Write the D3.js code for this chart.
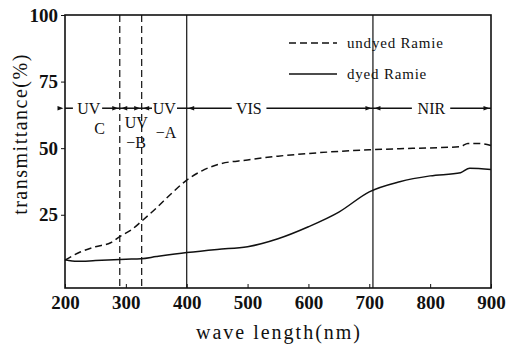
<!DOCTYPE html>
<html>
<head>
<meta charset="utf-8">
<script src="https://cdn.jsdelivr.net/npm/d3@7"></script>
<style>
  body { margin: 0; background: #fff; }
</style>
</head>
<body>
<figure id="chart" style="margin:0"></figure>
<script>
// wavelengths (nm) and transmittance (%)
const undyedX = [200, 225, 250, 275, 290, 310, 325, 350, 375, 400, 425, 450, 500, 550, 600, 650, 700, 750, 800, 850, 862, 880, 900];
const undyedY = [8, 11, 13, 14.5, 16.8, 19.5, 22.4, 27.5, 33, 38, 41.5, 43.8, 45.6, 47, 48, 48.8, 49.4, 49.8, 50.1, 50.6, 51.8, 51.8, 51];
const dyedX = [200, 220, 250, 300, 325, 350, 400, 450, 500, 550, 600, 650, 700, 750, 800, 850, 865, 900];
const dyedY = [8.1, 7.5, 7.8, 8.3, 8.5, 9.3, 10.8, 12, 13, 16, 20.5, 26, 33.6, 37.4, 39.6, 40.8, 42.5, 42];
const xTicks = [200, 300, 400, 500, 600, 700, 800, 900];
const yTicks = [25, 50, 75, 100];
const dashedBounds = [290, 326];
const solidBounds = [400, 706];
const bandLevel = 65;
const legendNames = ["undyed Ramie", "dyed Ramie"];

const width = 507, height = 348;
const mLeft = 65, mRight = 491, mTop = 15, mBottom = 288;
const serif = "'Liberation Serif', 'DejaVu Serif', serif";

const svg = d3.select("figure#chart")
  .append("svg")
  .attr("width", width)
  .attr("height", height);

const x = d3.scaleLinear().domain([200, 900]).range([mLeft, mRight]);
const y = d3.scaleLinear().domain([-2.5, 100]).range([mBottom, mTop]);

// frame
svg.append("rect")
  .attr("x", mLeft).attr("y", mTop)
  .attr("width", mRight - mLeft).attr("height", mBottom - mTop)
  .attr("fill", "none").attr("stroke", "#111").attr("stroke-width", 1.6);

// axes
const xAxis = svg.append("g")
  .attr("transform", "translate(0," + mBottom + ")")
  .call(d3.axisBottom(x).tickValues(xTicks).tickSize(-4).tickPadding(8).tickFormat(d3.format("d")));
xAxis.select(".domain").remove();
xAxis.selectAll("line").attr("stroke", "#111");
xAxis.selectAll("text")
  .style("font-family", serif).style("font-size", "19px").style("font-weight", "bold")
  .attr("fill", "#111");

const yAxis = svg.append("g")
  .attr("transform", "translate(" + mLeft + ",0)")
  .call(d3.axisLeft(y).tickValues(yTicks).tickSize(4).tickPadding(3));
yAxis.select(".domain").remove();
yAxis.selectAll("line").attr("stroke", "#111");
yAxis.selectAll("text")
  .style("font-family", serif).style("font-size", "19px").style("font-weight", "bold")
  .attr("fill", "#111");

// axis titles
svg.append("text")
  .attr("x", 279)
  .attr("y", 339)
  .attr("text-anchor", "middle")
  .style("font-family", serif)
  .style("font-size", "20px")
  .style("letter-spacing", "2px")
  .attr("fill", "#111")
  .text("wave length(nm)");

svg.append("text")
  .attr("transform", "translate(27,134) rotate(-90)")
  .attr("text-anchor", "middle")
  .style("font-family", serif)
  .style("font-size", "20px")
  .style("letter-spacing", "1.5px")
  .attr("fill", "#111")
  .text("transmittance(%)");

// region boundaries
svg.selectAll(".dashB")
  .data(dashedBounds)
  .enter()
  .append("line")
  .attr("x1", d => x(d)).attr("x2", d => x(d))
  .attr("y1", mTop).attr("y2", mBottom)
  .attr("stroke", "#111").attr("stroke-width", 1.2)
  .attr("stroke-dasharray", "7,4");

svg.selectAll(".solidB")
  .data(solidBounds)
  .enter()
  .append("line")
  .attr("x1", d => x(d)).attr("x2", d => x(d))
  .attr("y1", mTop).attr("y2", mBottom)
  .attr("stroke", "#111").attr("stroke-width", 1.2);

// band arrow line
const by = y(bandLevel);
const bandSegs = [
  [200, 213], [261, 290], [290, 326], [326, 343], [384, 400], [400, 474], [531, 706], [706, 770], [833, 900]
];
svg.selectAll(".band")
  .data(bandSegs)
  .enter()
  .append("line")
  .attr("x1", d => x(d[0])).attr("x2", d => x(d[1]))
  .attr("y1", by).attr("y2", by)
  .attr("stroke", "#111").attr("stroke-width", 1.5);

const arrowMarks = [[200, 1], [290, 1], [290, -1], [326, 1], [326, -1], [400, -1], [706, 1], [706, -1], [900, 1]];
svg.selectAll(".arrow")
  .data(arrowMarks)
  .enter()
  .append("path")
  .attr("d", d => {
    const px = x(d[0]) - d[1] * 1.5;
    return "M" + px + "," + by + "l" + (-d[1] * 6) + ",-2.2l0,4.4z";
  })
  .attr("fill", "#111");

const bandLabels = [
  { t: "UV", v: 239, dy: 0 }, { t: "C", v: 257, dy: 20 },
  { t: "UV", v: 317, dy: 14 }, { t: "\u2212B", v: 317, dy: 34 },
  { t: "UV", v: 363, dy: 0 }, { t: "\u2212A", v: 366, dy: 24 },
  { t: "VIS", v: 502, dy: 0 }, { t: "NIR", v: 802, dy: 0 }
];
svg.selectAll(".bandLabel")
  .data(bandLabels)
  .enter()
  .append("text")
  .attr("x", d => x(d.v))
  .attr("y", d => by + d.dy + 6)
  .attr("text-anchor", "middle")
  .style("font-family", serif)
  .style("font-size", "16px")
  .attr("fill", "#111")
  .text(d => d.t);

// curves
const line = d3.line().curve(d3.curveMonotoneX);
svg.append("path")
  .attr("d", line(undyedX.map((v, i) => [x(v), y(undyedY[i])])))
  .attr("fill", "none").attr("stroke", "#111").attr("stroke-width", 1.5)
  .attr("stroke-dasharray", "7,4");

svg.append("path")
  .attr("d", line(dyedX.map((v, i) => [x(v), y(dyedY[i])])))
  .attr("fill", "none").attr("stroke", "#111").attr("stroke-width", 1.5);

// legend
const legend = svg.selectAll(".legend")
  .data(legendNames)
  .enter()
  .append("g")
  .attr("transform", (d, i) => "translate(289," + (43 + i * 31) + ")");
legend.append("line")
  .attr("x1", 0).attr("x2", 48).attr("y1", 0).attr("y2", 0)
  .attr("stroke", "#111").attr("stroke-width", 1.5)
  .attr("stroke-dasharray", (d, i) => i === 0 ? "7,4" : null);
legend.append("text")
  .attr("x", 58).attr("y", 5)
  .style("font-family", serif)
  .style("font-size", "15px")
  .style("letter-spacing", "0.8px")
  .attr("fill", "#111")
  .text(d => d);
</script>
</body>
</html>
